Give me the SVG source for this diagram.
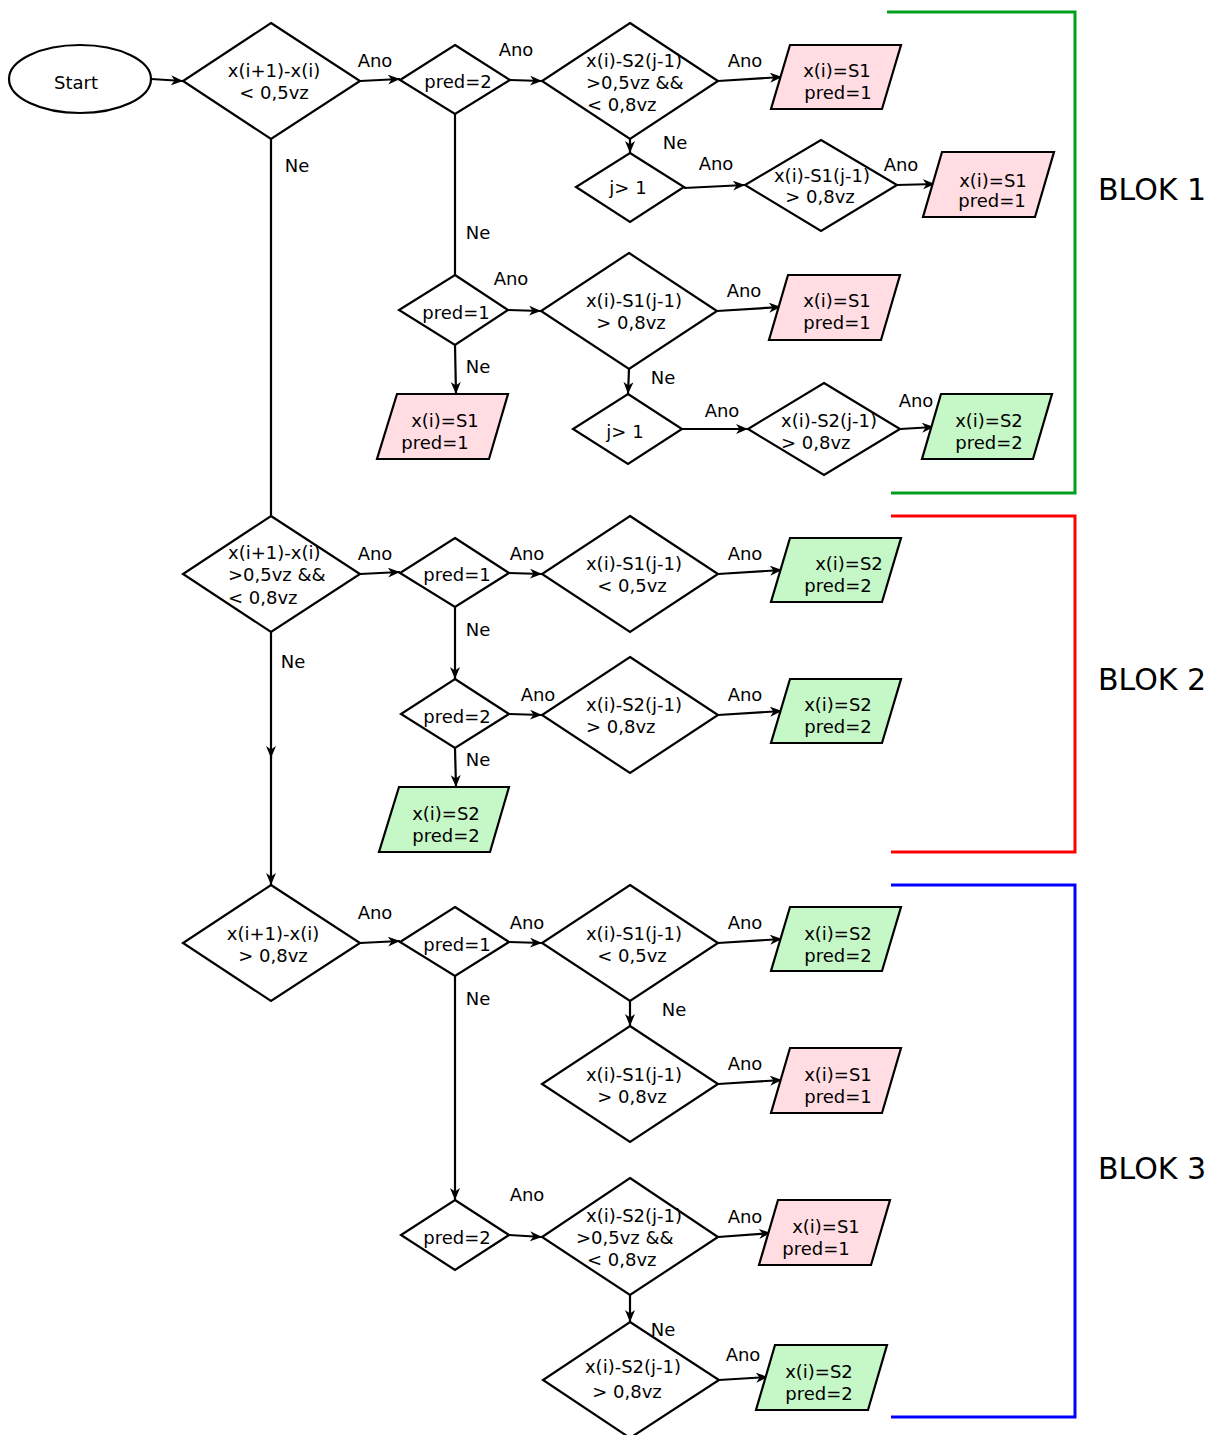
<svg xmlns="http://www.w3.org/2000/svg" width="1211" height="1435" viewBox="0 0 1211 1435">
  <style>
    .shape { fill: #ffffff; stroke: #000000; stroke-width: 2.2; }
    .s1 { fill: #ffdde3; stroke: #000000; stroke-width: 2.2; }
    .s2 { fill: #c6f7c6; stroke: #000000; stroke-width: 2.2; }
    .edge { fill: none; stroke: #000000; stroke-width: 2.2; }
    .arr { marker-end: url(#head); }
    text { font-family: "DejaVu Sans", "Liberation Sans", sans-serif; font-size: 18px; fill: #000000; }
    .c { text-anchor: middle; }
    .blok { font-size: 30px; }
    .bracket { fill: none; stroke-width: 3; }
  </style>
  <defs>
    <marker id="head" markerUnits="userSpaceOnUse" markerWidth="14" markerHeight="12" refX="12" refY="5" orient="auto">
      <path d="M0,0 L12,5 L0,10 L3.5,5 z" fill="#000000"/>
    </marker>
  </defs>

  <!-- connectors -->
  <g id="connectors">
    <line class="edge arr" x1="151" y1="79" x2="183" y2="81"/>
    <line class="edge arr" x1="360" y1="81" x2="400" y2="79"/>
    <line class="edge arr" x1="510" y1="80" x2="542" y2="81"/>
    <line class="edge arr" x1="718" y1="81" x2="782" y2="77"/>
    <line class="edge arr" x1="630" y1="139" x2="630" y2="153"/>
    <line class="edge arr" x1="684" y1="188" x2="745" y2="185"/>
    <line class="edge arr" x1="897" y1="185" x2="935" y2="184"/>
    <line class="edge" x1="455" y1="114" x2="455" y2="275"/>
    <line class="edge arr" x1="508" y1="310" x2="541" y2="311"/>
    <line class="edge arr" x1="717" y1="311" x2="781" y2="307"/>
    <line class="edge arr" x1="455" y1="345" x2="456" y2="394"/>
    <line class="edge arr" x1="629" y1="369" x2="628" y2="394"/>
    <line class="edge arr" x1="682" y1="429" x2="748" y2="429"/>
    <line class="edge arr" x1="900" y1="429" x2="934" y2="427"/>
    <line class="edge" x1="271" y1="139" x2="271" y2="516"/>

    <line class="edge arr" x1="360" y1="574" x2="400" y2="572"/>
    <line class="edge arr" x1="509" y1="573" x2="542" y2="574"/>
    <line class="edge arr" x1="718" y1="574" x2="782" y2="570"/>
    <line class="edge arr" x1="455" y1="607" x2="455" y2="679"/>
    <line class="edge arr" x1="509" y1="714" x2="542" y2="715"/>
    <line class="edge arr" x1="718" y1="715" x2="782" y2="711"/>
    <line class="edge arr" x1="455" y1="748" x2="456" y2="787"/>
    <line class="edge arr" x1="271" y1="632" x2="271" y2="758"/>
    <line class="edge arr" x1="271" y1="756" x2="271" y2="885"/>

    <line class="edge arr" x1="360" y1="943" x2="400" y2="941"/>
    <line class="edge arr" x1="509" y1="942" x2="542" y2="943"/>
    <line class="edge arr" x1="718" y1="943" x2="782" y2="939"/>
    <line class="edge arr" x1="630" y1="1001" x2="630" y2="1026"/>
    <line class="edge arr" x1="718" y1="1084" x2="782" y2="1080"/>
    <line class="edge arr" x1="455" y1="976" x2="455" y2="1200"/>
    <line class="edge arr" x1="509" y1="1235" x2="542" y2="1237"/>
    <line class="edge arr" x1="718" y1="1237" x2="771" y2="1233"/>
    <line class="edge arr" x1="630" y1="1295" x2="630" y2="1322"/>
    <line class="edge arr" x1="719" y1="1380" x2="768" y2="1377"/>

    <!-- edge labels -->
    <text class="c" x="375" y="67">Ano</text>
    <text class="c" x="516" y="56">Ano</text>
    <text class="c" x="745" y="67">Ano</text>
    <text class="c" x="675" y="149">Ne</text>
    <text class="c" x="716" y="170">Ano</text>
    <text class="c" x="901" y="171">Ano</text>
    <text class="c" x="297" y="172">Ne</text>
    <text class="c" x="478" y="239">Ne</text>
    <text class="c" x="511" y="285">Ano</text>
    <text class="c" x="744" y="297">Ano</text>
    <text class="c" x="478" y="373">Ne</text>
    <text class="c" x="663" y="384">Ne</text>
    <text class="c" x="722" y="417">Ano</text>
    <text class="c" x="916" y="407">Ano</text>

    <text class="c" x="375" y="560">Ano</text>
    <text class="c" x="527" y="560">Ano</text>
    <text class="c" x="745" y="560">Ano</text>
    <text class="c" x="478" y="636">Ne</text>
    <text class="c" x="293" y="668">Ne</text>
    <text class="c" x="538" y="701">Ano</text>
    <text class="c" x="745" y="701">Ano</text>
    <text class="c" x="478" y="766">Ne</text>

    <text class="c" x="375" y="919">Ano</text>
    <text class="c" x="527" y="929">Ano</text>
    <text class="c" x="745" y="929">Ano</text>
    <text class="c" x="478" y="1005">Ne</text>
    <text class="c" x="674" y="1016">Ne</text>
    <text class="c" x="745" y="1070">Ano</text>
    <text class="c" x="527" y="1201">Ano</text>
    <text class="c" x="745" y="1223">Ano</text>
    <text class="c" x="663" y="1336">Ne</text>
    <text class="c" x="743" y="1361">Ano</text>
  </g>

  <!-- BLOK 1 -->
  <g id="start">
    <ellipse class="shape" cx="80" cy="79" rx="71" ry="34"/>
    <text class="c" x="76" y="89">Start</text>
  </g>
  <g id="d1">
    <polygon class="shape" points="271,23 360,81 271,139 183,81"/>
    <text class="c" x="274" y="77">x(i+1)-x(i)</text>
    <text class="c" x="274" y="99">&lt; 0,5vz</text>
  </g>
  <g id="p1">
    <polygon class="shape" points="455,45 510,80 455,114 400,80"/>
    <text class="c" x="458" y="88">pred=2</text>
  </g>
  <g id="d2">
    <polygon class="shape" points="630,23 718,81 630,139 542,81"/>
    <text x="586" y="67">x(i)-S2(j-1)</text>
    <text x="586" y="89">&gt;0,5vz &amp;&amp;</text>
    <text x="587" y="111">&lt; 0,8vz</text>
  </g>
  <g id="r1">
    <polygon class="s1" points="790,45 901,45 882,109 771,109"/>
    <text class="c" x="837" y="77">x(i)=S1</text>
    <text class="c" x="838" y="99">pred=1</text>
  </g>
  <g id="j1">
    <polygon class="shape" points="630,153 684,187 630,222 576,187"/>
    <text class="c" x="628" y="194">j&gt; 1</text>
  </g>
  <g id="d3">
    <polygon class="shape" points="821,140 897,185 821,231 745,185"/>
    <text class="c" x="822" y="182">x(i)-S1(j-1)</text>
    <text class="c" x="820" y="203">&gt; 0,8vz</text>
  </g>
  <g id="r2">
    <polygon class="s1" points="942,152 1054,152 1035,217 923,217"/>
    <text class="c" x="993" y="187">x(i)=S1</text>
    <text class="c" x="992" y="207">pred=1</text>
  </g>
  <g id="p2">
    <polygon class="shape" points="455,275 508,310 455,345 399,310"/>
    <text class="c" x="456" y="319">pred=1</text>
  </g>
  <g id="d4">
    <polygon class="shape" points="629,253 717,311 629,369 541,311"/>
    <text class="c" x="634" y="307">x(i)-S1(j-1)</text>
    <text class="c" x="631" y="329">&gt; 0,8vz</text>
  </g>
  <g id="r3">
    <polygon class="s1" points="788,275 900,275 881,340 769,340"/>
    <text class="c" x="837" y="307">x(i)=S1</text>
    <text class="c" x="837" y="329">pred=1</text>
  </g>
  <g id="r4">
    <polygon class="s1" points="397,394 508,394 489,459 377,459"/>
    <text class="c" x="445" y="427">x(i)=S1</text>
    <text class="c" x="435" y="449">pred=1</text>
  </g>
  <g id="j2">
    <polygon class="shape" points="628,394 682,429 628,464 573,429"/>
    <text class="c" x="625" y="438">j&gt; 1</text>
  </g>
  <g id="d5">
    <polygon class="shape" points="824,383 900,429 824,475 748,429"/>
    <text x="781" y="427">x(i)-S2(j-1)</text>
    <text x="781" y="449">&gt; 0,8vz</text>
  </g>
  <g id="r5">
    <polygon class="s2" points="941,394 1052,394 1033,459 922,459"/>
    <text class="c" x="989" y="427">x(i)=S2</text>
    <text class="c" x="989" y="449">pred=2</text>
  </g>

  <!-- BLOK 2 -->
  <g id="d6">
    <polygon class="shape" points="271,516 360,574 271,632 183,574"/>
    <text x="228" y="559">x(i+1)-x(i)</text>
    <text x="228" y="581">&gt;0,5vz &amp;&amp;</text>
    <text x="228" y="604">&lt; 0,8vz</text>
  </g>
  <g id="p3">
    <polygon class="shape" points="455,538 509,573 455,607 400,573"/>
    <text class="c" x="457" y="581">pred=1</text>
  </g>
  <g id="d7">
    <polygon class="shape" points="630,516 718,574 630,632 542,574"/>
    <text class="c" x="634" y="570">x(i)-S1(j-1)</text>
    <text class="c" x="632" y="592">&lt; 0,5vz</text>
  </g>
  <g id="r6">
    <polygon class="s2" points="790,538 901,538 882,602 771,602"/>
    <text class="c" x="849" y="570">x(i)=S2</text>
    <text class="c" x="838" y="592">pred=2</text>
  </g>
  <g id="p4">
    <polygon class="shape" points="455,679 509,714 455,748 401,714"/>
    <text class="c" x="457" y="723">pred=2</text>
  </g>
  <g id="d8">
    <polygon class="shape" points="630,657 718,715 630,773 542,715"/>
    <text x="586" y="711">x(i)-S2(j-1)</text>
    <text x="586" y="733">&gt; 0,8vz</text>
  </g>
  <g id="r7">
    <polygon class="s2" points="790,679 901,679 882,743 771,743"/>
    <text class="c" x="838" y="711">x(i)=S2</text>
    <text class="c" x="838" y="733">pred=2</text>
  </g>
  <g id="r8">
    <polygon class="s2" points="399,787 509,787 490,852 379,852"/>
    <text class="c" x="446" y="820">x(i)=S2</text>
    <text class="c" x="446" y="842">pred=2</text>
  </g>

  <!-- BLOK 3 -->
  <g id="d9">
    <polygon class="shape" points="271,885 360,943 271,1001 183,943"/>
    <text class="c" x="273" y="940">x(i+1)-x(i)</text>
    <text class="c" x="273" y="962">&gt; 0,8vz</text>
  </g>
  <g id="p5">
    <polygon class="shape" points="455,907 509,942 455,976 400,942"/>
    <text class="c" x="457" y="951">pred=1</text>
  </g>
  <g id="d10">
    <polygon class="shape" points="630,885 718,943 630,1001 542,943"/>
    <text class="c" x="634" y="940">x(i)-S1(j-1)</text>
    <text class="c" x="632" y="962">&lt; 0,5vz</text>
  </g>
  <g id="r9">
    <polygon class="s2" points="790,907 901,907 882,971 771,971"/>
    <text class="c" x="838" y="940">x(i)=S2</text>
    <text class="c" x="838" y="962">pred=2</text>
  </g>
  <g id="d11">
    <polygon class="shape" points="630,1026 718,1084 630,1142 542,1084"/>
    <text class="c" x="634" y="1081">x(i)-S1(j-1)</text>
    <text class="c" x="632" y="1103">&gt; 0,8vz</text>
  </g>
  <g id="r10">
    <polygon class="s1" points="790,1048 901,1048 882,1113 771,1113"/>
    <text class="c" x="838" y="1081">x(i)=S1</text>
    <text class="c" x="838" y="1103">pred=1</text>
  </g>
  <g id="p6">
    <polygon class="shape" points="455,1200 509,1235 455,1270 401,1235"/>
    <text class="c" x="457" y="1244">pred=2</text>
  </g>
  <g id="d12">
    <polygon class="shape" points="630,1178 718,1237 630,1295 542,1237"/>
    <text x="586" y="1222">x(i)-S2(j-1)</text>
    <text x="576" y="1244">&gt;0,5vz &amp;&amp;</text>
    <text x="587" y="1266">&lt; 0,8vz</text>
  </g>
  <g id="r11">
    <polygon class="s1" points="778,1200 890,1200 871,1265 759,1265"/>
    <text class="c" x="826" y="1233">x(i)=S1</text>
    <text class="c" x="816" y="1255">pred=1</text>
  </g>
  <g id="d13">
    <polygon class="shape" points="630,1322 719,1380 630,1438 543,1380"/>
    <text class="c" x="633" y="1373">x(i)-S2(j-1)</text>
    <text class="c" x="627" y="1398">&gt; 0,8vz</text>
  </g>
  <g id="r12">
    <polygon class="s2" points="775,1345 887,1345 868,1410 756,1410"/>
    <text class="c" x="819" y="1378">x(i)=S2</text>
    <text class="c" x="819" y="1400">pred=2</text>
  </g>

  <!-- block brackets -->
  <g id="blok1">
    <polyline class="bracket" stroke="#00a01e" points="887,12 1075,12 1075,493 891,493"/>
    <text class="blok" x="1098" y="200">BLOK 1</text>
  </g>
  <g id="blok2">
    <polyline class="bracket" stroke="#ff0000" points="891,516 1075,516 1075,852 891,852"/>
    <text class="blok" x="1098" y="690">BLOK 2</text>
  </g>
  <g id="blok3">
    <polyline class="bracket" stroke="#0000ff" points="891,885 1075,885 1075,1417 891,1417"/>
    <text class="blok" x="1098" y="1179">BLOK 3</text>
  </g>
</svg>
